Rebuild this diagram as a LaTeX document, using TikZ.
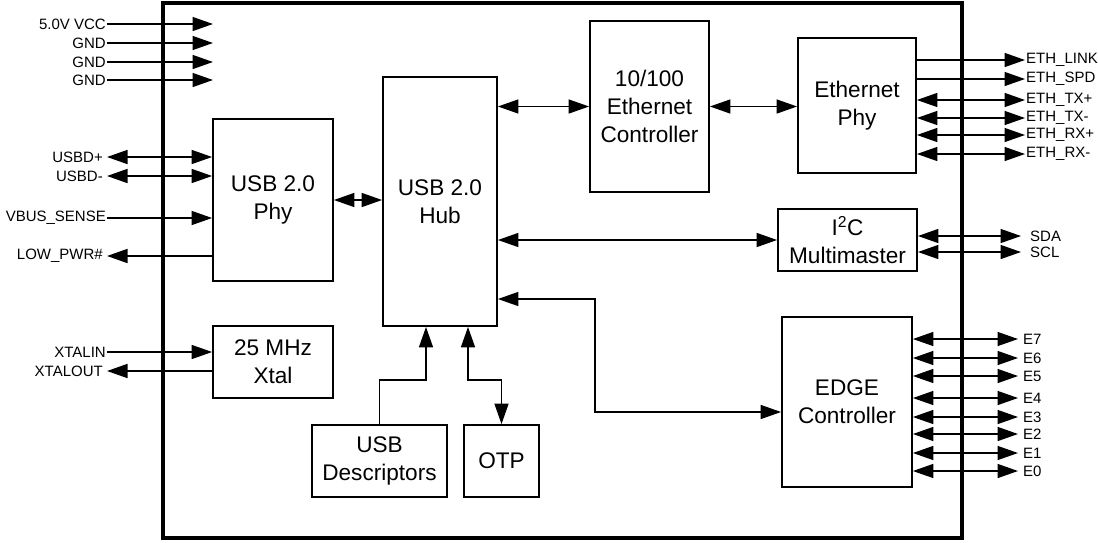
\documentclass[tikz,border=0pt]{standalone}
\usepackage{fontspec}
\setmainfont{Liberation Sans}
\usetikzlibrary{arrows.meta}
\tikzset{
  blk/.style={draw, line width=1.8pt, align=center, inner sep=0pt,
    font=\fontsize{22.6}{28}\selectfont},
  sig/.style={font=\fontsize{15}{16}\selectfont, inner sep=1pt},
  wire/.style={line width=1.5pt},
  uni/.style={wire, ->},
  bi/.style={wire, <->},
  inv/.style={wire, <-},
}
\begin{document}
\begin{tikzpicture}[x=1pt,y=-1pt, >={Triangle[length=20.5pt,width=14pt]}]
\useasboundingbox (0,0) rectangle (1098,542);
% outer chip
\node[draw, line width=4pt, minimum width=799pt, minimum height=535pt, inner sep=0pt] (chip) at (562.5,270.5) {};
% blocks
\node[blk, minimum width=120pt, minimum height=162pt] (phy) at (273,200) {USB 2.0\\Phy};
\node[blk, minimum width=114pt, minimum height=249pt] (hub) at (440,201.5) {USB 2.0\\Hub};
\node[blk, minimum width=120pt, minimum height=72pt] (xtal) at (273,362) {25 MHz\\Xtal};
\node[blk, minimum width=135pt, minimum height=72pt] (desc) at (379.5,461) {USB\\Descriptors};
\node[blk, minimum width=75pt, minimum height=72pt] (otp) at (501.5,461) {OTP};
\node[blk, minimum width=119pt, minimum height=171pt] (ethc) at (649.5,106.5) {10/100\\Ethernet\\Controller};
\node[blk, minimum width=118pt, minimum height=135pt] (ethp) at (857,105.5) {Ethernet\\Phy};
\node[blk, minimum width=139pt, minimum height=62pt] (i2c) at (847.5,240) {I\textsuperscript{2}C\\Multimaster};
\node[blk, minimum width=130pt, minimum height=170pt] (edge) at (847,402) {EDGE\\Controller};
% internal connectors
\draw[bi] (phy.east) -- (phy.east -| hub.west);
\draw[bi] (hub.east |- ethc.west) -- (ethc.west);
\draw[bi] (ethc.east) -- (ethc.east -| ethp.west);
\draw[bi] (hub.east |- i2c.west) -- (i2c.west);
\coordinate (he1) at (595,299);
\coordinate (he2) at (595,412);
\draw[bi] (hub.east |- he1) -- (he1) -- (he2) -- (edge.west |- he2);
\coordinate (dk) at (426,380);
\draw[uni] (desc.north) |- (dk) -- (dk |- hub.south);
\coordinate (ok) at (468,380);
\draw[bi] (ok |- hub.south) -- (ok) -| (otp.north);
% left power signals
\foreach \n/\t/\y in {vcc/5.0V VCC/24, g1/GND/43, g2/GND/62, g3/GND/80}{
  \node[sig, anchor=east] (l\n) at (107,\y) {\t};
  \coordinate (c\n) at (213,\y);
  \draw[uni] (l\n.east) -- (c\n);
}
% left usb signals
\node[sig, anchor=east] (lusbp) at (104,157) {USBD+};
\node[sig, anchor=east] (lusbm) at (104,176) {USBD-};
\node[sig, anchor=east] (lvbus) at (107,218) {VBUS\_SENSE};
\node[sig, anchor=east] (llow) at (104,256) {LOW\_PWR\#};
\draw[bi] ([xshift=3pt]lusbp.east) -- (lusbp.east -| phy.west);
\draw[bi] ([xshift=3pt]lusbm.east) -- (lusbm.east -| phy.west);
\draw[uni] (lvbus.east) -- (lvbus.east -| phy.west);
\draw[inv] ([xshift=3pt]llow.east) -- (llow.east -| phy.west);
\node[sig, anchor=east] (lxin) at (107,352) {XTALIN};
\node[sig, anchor=east] (lxout) at (104,371) {XTALOUT};
\draw[uni] (lxin.east) -- (lxin.east -| xtal.west);
\draw[inv] ([xshift=3pt]lxout.east) -- (lxout.east -| xtal.west);
% ethernet phy signals
\node[sig, anchor=west] (rlink) at (1025,60) {ETH\_LINK};
\node[sig, anchor=west] (rspd) at (1025,79) {ETH\_SPD};
\draw[uni] (rlink.west -| ethp.east) -- (rlink.west);
\draw[uni] (rspd.west -| ethp.east) -- (rspd.west);
\foreach \n/\t/\y in {txp/ETH\_TX+/100, txm/ETH\_TX-/118, rxp/ETH\_RX+/135, rxm/ETH\_RX-/154}{
  \node[sig, anchor=west] (r\n) at (1025,\y) {\t};
  \draw[bi] (r\n.west -| ethp.east) -- (r\n.west);
}
% i2c signals
\node[sig, anchor=west] (rsda) at (1029,236) {SDA};
\node[sig, anchor=west] (rscl) at (1029,252) {SCL};
\draw[bi] (rsda.west -| i2c.east) -- ([xshift=-8pt]rsda.west);
\draw[bi] (rscl.west -| i2c.east) -- ([xshift=-8pt]rscl.west);
% edge signals
\foreach \n/\y in {7/339, 6/358, 5/376, 4/398, 3/417, 2/434, 1/453, 0/471}{
  \node[sig, anchor=west] (re\n) at (1022,\y) {E\n};
  \draw[bi] (re\n.west -| edge.east) -- ([xshift=-4pt]re\n.west);
}
\end{tikzpicture}
\end{document}
